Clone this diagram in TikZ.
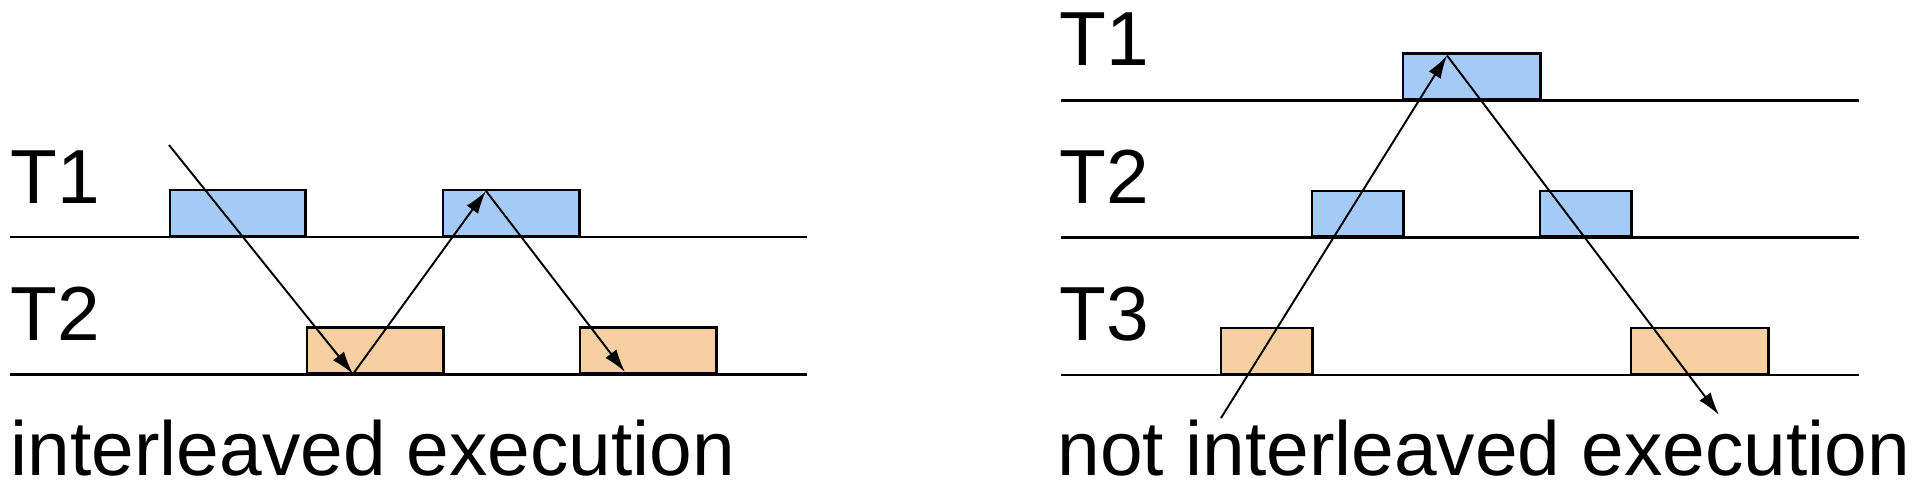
\documentclass[tikz,border=0pt]{standalone}
\usepackage{fontspec}
\setmainfont{Liberation Sans}
\usetikzlibrary{arrows.meta}
\definecolor{taskblue}{HTML}{A6CAF6}
\definecolor{taskorange}{HTML}{F7CFA1}
\begin{document}
\begin{tikzpicture}[x=0.01cm,y=-0.01cm,
  lbl/.style={anchor=base west, inner sep=0pt, font=\fontsize{21.8pt}{26pt}\selectfont},
  timeline/.style={line width=0.7pt},
  blk/.style={draw, line width=0.7pt, inner sep=0pt, anchor=south west, minimum height=0.457cm},
  bblk/.style={blk, fill=taskblue},
  oblk/.style={blk, fill=taskorange},
  flow/.style={line width=0.55pt, -{Latex[length=2.3mm,width=1.4mm]}},
]
\useasboundingbox (0,0) rectangle (1924,498);

% ---------- left panel ----------
\coordinate (lA1) at (10,237);   \coordinate (lB1) at (807,237);
\coordinate (lA2) at (10,374.5); \coordinate (lB2) at (807,374.5);
\draw[timeline] (lA1) -- (lB1);
\draw[timeline] (lA2) -- (lB2);
\node[bblk, minimum width=1.35cm] (lb1) at (169,237) {};
\node[bblk, minimum width=1.36cm] (lb2) at (442,237) {};
\node[oblk, minimum width=1.365cm] (lo1) at (305.5,374.5) {};
\node[oblk, minimum width=1.36cm] (lo2) at (579,374.5) {};
\node[lbl] (lt1) at (10,204) {T1};
\node[lbl] (lt2) at (10,341) {T2};
\node[lbl] (lcap) at (10,476) {interleaved execution};
\coordinate (ls) at (169,145);
\coordinate (lp1) at (353,374);
\coordinate (lp2) at (486,191);
\coordinate (lp3) at (625,372);
\draw[flow] (ls) -- (lp1);
\draw[flow] (lp1) -- (lp2);
\draw[flow] (lp2) -- (lp3);

% ---------- right panel ----------
\coordinate (rA1) at (1061,100.7); \coordinate (rB1) at (1859,100.7);
\coordinate (rA2) at (1061,237.7); \coordinate (rB2) at (1859,237.7);
\coordinate (rA3) at (1061,375);   \coordinate (rB3) at (1859,375);
\draw[timeline] (rA1) -- (rB1);
\draw[timeline] (rA2) -- (rB2);
\draw[timeline] (rA3) -- (rB3);
\node[bblk, minimum width=1.37cm] (rb1) at (1402,100.7) {};
\node[bblk, minimum width=0.91cm] (rb2) at (1311,237.7) {};
\node[bblk, minimum width=0.91cm] (rb3) at (1539,237.7) {};
\node[oblk, minimum width=0.91cm] (ro1) at (1220,375) {};
\node[oblk, minimum width=1.37cm] (ro2) at (1630,375) {};
\node[lbl] (rt1) at (1059,66) {T1};
\node[lbl] (rt2) at (1059,203.5) {T2};
\node[lbl] (rt3) at (1059,341) {T3};
\node[lbl] (rcap) at (1057,476) {not interleaved execution};
\coordinate (rs) at (1221,418);
\coordinate (rp) at (1447,55.5);
\coordinate (re) at (1719,415);
\draw[flow] (rs) -- (rp);
\draw[flow] (rp) -- (re);
\end{tikzpicture}
\end{document}
